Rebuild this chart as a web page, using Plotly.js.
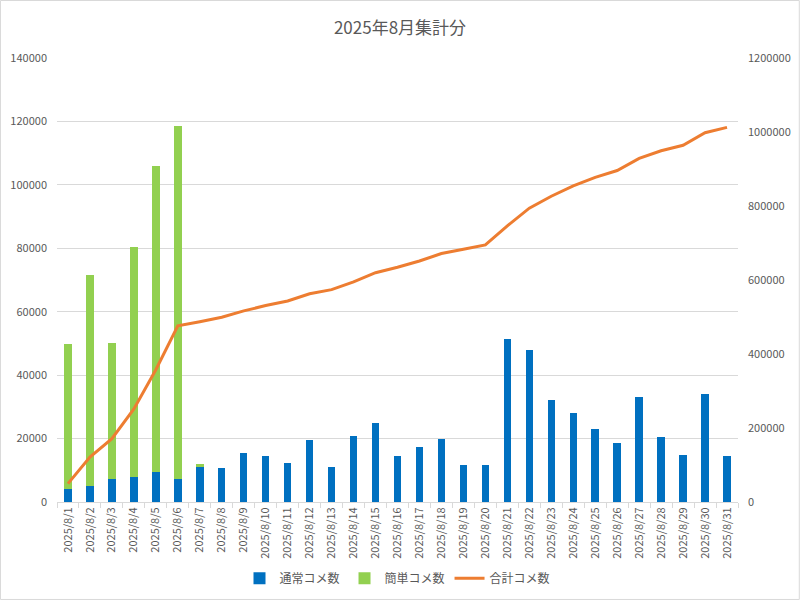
<!DOCTYPE html>
<html>
<head>
<meta charset="utf-8">
<script src="https://cdn.plot.ly/plotly-3.0.1.min.js"></script>
<style>
html,body{margin:0;padding:0;background:#fff;}
#chart{width:800px;height:600px;}
</style>
</head>
<body>
<div id="chart"></div>
<script>
const dates = ["2025/8/1","2025/8/2","2025/8/3","2025/8/4","2025/8/5","2025/8/6","2025/8/7","2025/8/8","2025/8/9","2025/8/10","2025/8/11","2025/8/12","2025/8/13","2025/8/14","2025/8/15","2025/8/16","2025/8/17","2025/8/18","2025/8/19","2025/8/20","2025/8/21","2025/8/22","2025/8/23","2025/8/24","2025/8/25","2025/8/26","2025/8/27","2025/8/28","2025/8/29","2025/8/30","2025/8/31"];
const normalComments = [4000,4900,7150,8000,9600,7200,10950,10700,15300,14400,12300,19600,11100,20900,25000,14500,17300,20000,11700,11600,51400,48000,32200,28000,22900,18500,33000,20400,14900,34000,14400];
const simpleComments = [45700,66700,42850,72300,96200,111400,950,0,0,0,0,0,0,0,0,0,0,0,0,0,0,0,0,0,0,0,0,0,0,0,0];
const totalCumulative = [49700,121300,171300,251600,357400,476000,487300,499200,516500,530900,543200,562800,573900,594800,619800,634300,651500,671500,683200,694800,746200,794200,826400,854400,877300,895800,928800,949200,964100,998100,1012500];

const font = "'Noto Sans CJK JP', 'Noto Sans', sans-serif";
const gray = "#595959";

const traces = [
  {type:"bar", name:"通常コメ数", x:dates, y:normalComments, marker:{color:"#0070C0"}, yaxis:"y"},
  {type:"bar", name:"簡単コメ数", x:dates, y:simpleComments, marker:{color:"#92D050"}, yaxis:"y"},
  {type:"scatter", mode:"lines", name:"合計コメ数", x:dates, y:totalCumulative, line:{color:"#ED7D31", width:3}, yaxis:"y2"}
];

const layout = {
  width:800, height:600,
  paper_bgcolor:"#fff", plot_bgcolor:"#fff",
  font:{family:font, color:gray, size:11},
  title:{text:"2025年8月集計分", font:{family:font, size:17, color:gray}, x:0.5, xanchor:"center", y:0.953, yanchor:"middle"},
  margin:{l:57, r:62, t:58, b:98, autoexpand:false},
  barmode:"stack",
  bargap:0.66,
  showlegend:true,
  legend:{orientation:"h", x:0.5, xanchor:"center", y:-0.172, yanchor:"middle", font:{family:font, size:12, color:gray}, traceorder:"normal", itemwidth:30},
  xaxis:{type:"category", tickangle:-90, tickfont:{size:11, color:gray}, showline:true, linecolor:"#D9D9D9", linewidth:1,
         ticks:"outside", tickson:"boundaries", ticklen:5, tickcolor:"#D9D9D9", showgrid:false, automargin:false},
  yaxis:{range:[0,140000], dtick:20000, tickformat:"d", showgrid:true, gridcolor:"#D9D9D9", gridwidth:1, zeroline:false,
         showline:false, tickfont:{size:11, color:gray}, ticks:"", ticklabelstandoff:9, automargin:false},
  yaxis2:{range:[0,1200000], dtick:200000, tickformat:"d", overlaying:"y", side:"right", showgrid:false, zeroline:false,
          showline:false, tickfont:{size:11, color:gray}, ticklabelstandoff:9, automargin:false},
  shapes:[{type:"rect", xref:"paper", yref:"paper", x0:-0.0830, x1:1.0900, y0:-0.2195, y1:1.1295, line:{color:"#D9D9D9", width:1}}]
};

Plotly.newPlot("chart", traces, layout, {displayModeBar:false, staticPlot:true});
</script>
</body>
</html>
